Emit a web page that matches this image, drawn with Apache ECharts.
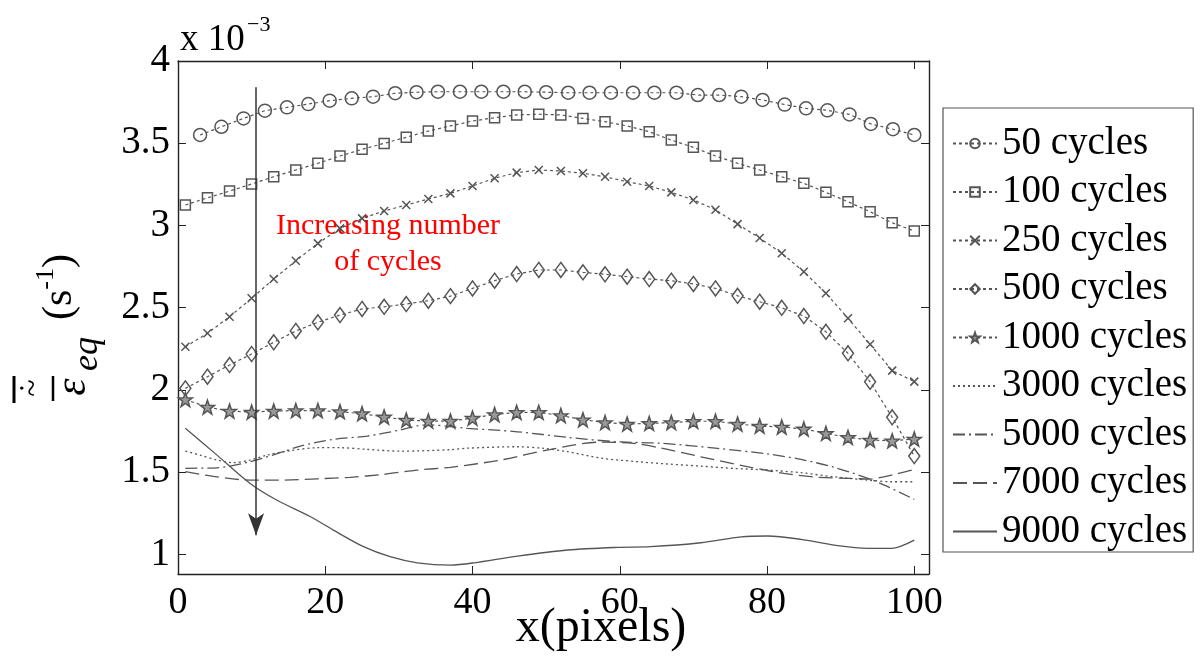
<!DOCTYPE html>
<html>
<head>
<meta charset="utf-8">
<script src="https://cdn.jsdelivr.net/npm/echarts@6/dist/echarts.min.js"></script>
<style>
html,body{margin:0;padding:0;background:#fff;}
#chart{width:1201px;height:657px;}
</style>
</head>
<body>
<div id="chart"></div>
<script>
// ---- data (values in units of 1e-3 s^-1) ----
const seriesNames = ['50 cycles','100 cycles','250 cycles','500 cycles','1000 cycles','3000 cycles','5000 cycles','7000 cycles','9000 cycles'];
const xTicks = [0, 20, 40, 60, 80, 100];
const yTicks = [1, 1.5, 2, 2.5, 3, 3.5, 4];
const xAxisTitle = 'x(pixels)';

const xMarked = [1,4,7,10,13,16,19,22,25,28,31,34,37,40,43,46,49,52,55,58,61,64,67,70,73,76,79,82,85,88,91,94,97,100];
const x50 = [3.0,5.9,8.9,11.8,14.8,17.7,20.6,23.6,26.5,29.5,32.4,35.3,38.3,41.2,44.2,47.1,50.0,53.0,55.9,58.8,61.8,64.7,67.7,70.6,73.5,76.5,79.4,82.4,85.3,88.2,91.2,94.1,97.1,100];

const y50 = [3.550,3.600,3.651,3.698,3.718,3.738,3.759,3.773,3.783,3.804,3.810,3.813,3.813,3.813,3.813,3.813,3.810,3.807,3.807,3.807,3.807,3.807,3.807,3.793,3.793,3.783,3.763,3.735,3.712,3.700,3.675,3.617,3.585,3.550];
const y100 = [3.124,3.168,3.209,3.252,3.296,3.337,3.378,3.422,3.463,3.499,3.536,3.574,3.605,3.635,3.655,3.672,3.676,3.672,3.651,3.631,3.605,3.570,3.519,3.475,3.422,3.378,3.337,3.296,3.256,3.201,3.144,3.083,3.016,2.966];
const y250 = [2.262,2.344,2.445,2.557,2.674,2.785,2.891,2.982,3.043,3.088,3.124,3.161,3.195,3.240,3.287,3.321,3.337,3.331,3.317,3.296,3.266,3.240,3.201,3.155,3.095,3.008,2.923,2.831,2.718,2.587,2.435,2.277,2.117,2.050];
const y500 = [2.009,2.080,2.151,2.218,2.289,2.358,2.411,2.455,2.492,2.505,2.522,2.542,2.570,2.617,2.664,2.704,2.729,2.729,2.715,2.703,2.688,2.674,2.664,2.644,2.617,2.572,2.536,2.499,2.449,2.353,2.222,2.049,1.833,1.597];
const y1000 = [1.941,1.895,1.871,1.865,1.871,1.874,1.874,1.867,1.855,1.835,1.816,1.810,1.810,1.828,1.850,1.863,1.863,1.844,1.818,1.801,1.792,1.796,1.801,1.809,1.809,1.792,1.780,1.774,1.762,1.735,1.711,1.695,1.690,1.701];

const x3000 = [1,3,5.3,7.5,9.8,12.1,15.2,18.9,22,25.7,30.2,37,39.3,46.1,49.7,52.9,57.4,61.9,66.5,71,75.5,80.1,84.6,89.1,93.7,96.9,100];
const y3000 = [1.628,1.603,1.573,1.557,1.573,1.603,1.630,1.648,1.648,1.638,1.627,1.636,1.645,1.654,1.644,1.624,1.585,1.565,1.549,1.536,1.522,1.512,1.496,1.471,1.451,1.441,1.441];
const x5000 = [1,5.3,9.8,14.3,16.6,21.1,25.7,30.2,33.4,34.7,37,39.3,46.1,52.9,59.7,65.6,73.3,80.1,84.6,89.1,93.7,96.4,100];
const y5000 = [1.523,1.526,1.563,1.624,1.658,1.699,1.719,1.756,1.786,1.786,1.776,1.766,1.745,1.711,1.684,1.675,1.644,1.610,1.577,1.529,1.462,1.411,1.334];
const x7000 = [1,5.3,9.8,14.3,18.9,23.4,27.9,32.5,37,43.8,50.6,57.4,61.9,65.6,71,77.8,82.3,86.9,91.4,93.7,97.3,100];
const y7000 = [1.502,1.471,1.451,1.451,1.459,1.468,1.486,1.512,1.529,1.573,1.638,1.682,1.675,1.646,1.593,1.529,1.492,1.468,1.462,1.457,1.486,1.516];
const x9000 = [1,5.3,9.8,13.4,18,21.1,25.2,28.8,32.5,37,40.2,46.1,52.9,59.7,64.2,71,76.5,80.1,84.6,89.1,93.7,96.9,100];
const y9000 = [1.766,1.603,1.431,1.330,1.228,1.147,1.046,0.985,0.948,0.934,0.948,0.989,1.026,1.042,1.046,1.070,1.106,1.111,1.091,1.056,1.036,1.036,1.086];

// arrow annotation (data coordinates)
const arrowX = 10.6;
const arrowTop = 3.84;
const arrowBottom = 1.115;

// ---- chart ----
const FONT = 'Liberation Serif';
const GRAY = '#555';
const pairs = (xs, ys) => xs.map((x, i) => [x, ys[i]]);

const starPath = 'path://M0,-10 L2.35,-3.24 L9.51,-3.09 L3.8,1.24 L5.88,8.09 L0,4 L-5.88,8.09 L-3.8,1.24 L-9.51,-3.09 L-2.35,-3.24 Z';
const xPath = 'path://M0,0 L10,10 M10,0 L0,10';

function markerSeries(name, xs, ys, symbol, size, fill) {
  return {
    name, type: 'line', data: pairs(xs, ys),
    symbol, symbolSize: size, showSymbol: true,
    lineStyle: { color: GRAY, width: 1.2, type: [3, 3] },
    itemStyle: { color: fill, borderColor: GRAY, borderWidth: 1.5 },
    z: 3
  };
}
function plainSeries(name, xs, ys, type, width) {
  return {
    name, type: 'line', data: pairs(xs, ys), symbol: 'none', smooth: 0.3,
    lineStyle: { color: GRAY, width: width, type: type },
    itemStyle: { color: 'rgba(0,0,0,0)', borderWidth: 0 },
    z: 2
  };
}

const series = [
  markerSeries(seriesNames[0], x50, y50, 'circle', 13, 'rgba(255,255,255,0)'),
  markerSeries(seriesNames[1], xMarked, y100, 'rect', 10, 'rgba(255,255,255,0)'),
  markerSeries(seriesNames[2], xMarked, y250, xPath, 8, GRAY),
  markerSeries(seriesNames[3], xMarked, y500, 'diamond', [11, 15], 'rgba(255,255,255,0)'),
  markerSeries(seriesNames[4], xMarked, y1000, starPath, 14, '#9a9a9a'),
  plainSeries(seriesNames[5], x3000, y3000, [2, 3], 1.3),
  plainSeries(seriesNames[6], x5000, y5000, [12, 4, 2, 4], 1.3),
  plainSeries(seriesNames[7], x7000, y7000, [14, 6], 1.3),
  plainSeries(seriesNames[8], x9000, y9000, 'solid', 1.3),
  {
    name: 'arrow', type: 'line', data: [], silent: true,
    markLine: {
      silent: true, symbol: ['none', 'arrow'], symbolSize: [12, 22],
      label: { show: false },
      lineStyle: { color: '#333', width: 1.5, type: 'solid' },
      data: [[{ coord: [arrowX, arrowTop] }, { coord: [arrowX, arrowBottom] }]]
    }
  }
];

const axisCommon = {
  axisLine: { show: true, onZero: false, lineStyle: { color: '#222', width: 1.4 } },
  splitLine: { show: false }
};

const option = {
  animation: false,
  backgroundColor: '#fff',
  grid: { left: 178, right: 272, top: 61, bottom: 83, containLabel: false, outerBoundsMode: 'none' },
  xAxis: [
    Object.assign({}, axisCommon, {
      type: 'value', min: 0, max: 102, position: 'bottom',
      axisTick: { show: true, inside: true, length: 8, customValues: xTicks, lineStyle: { color: '#222' } },
      axisLabel: { customValues: xTicks, fontFamily: FONT, fontSize: 38, color: '#000', margin: 10 }
    }),
    Object.assign({}, axisCommon, {
      type: 'value', min: 0, max: 102, position: 'top',
      axisTick: { show: true, inside: true, length: 8, customValues: xTicks, lineStyle: { color: '#222' } },
      axisLabel: { show: false }
    })
  ],
  yAxis: [
    Object.assign({}, axisCommon, {
      type: 'value', min: 0.88, max: 4, position: 'left',
      axisTick: { show: true, inside: true, length: 8, customValues: yTicks, lineStyle: { color: '#222' } },
      axisLabel: { customValues: yTicks, fontFamily: FONT, fontSize: 39, color: '#000', margin: 8 }
    }),
    Object.assign({}, axisCommon, {
      type: 'value', min: 0.88, max: 4, position: 'right',
      axisTick: { show: true, inside: true, length: 8, customValues: yTicks, lineStyle: { color: '#222' } },
      axisLabel: { show: false }
    })
  ],
  legend: {
    data: seriesNames,
    orient: 'vertical',
    left: 943, top: 108,
    padding: [16, 6, 1, 9],
    itemWidth: 44, itemHeight: 12, itemGap: 9.5,
    borderColor: '#555', borderWidth: 1.2,
    textStyle: { fontFamily: FONT, fontSize: 39, color: '#000', lineHeight: 38 },
    selectedMode: false
  },
  graphic: [
    { type: 'text', x: 601, y: 628, style: { text: xAxisTitle, font: '48px "Liberation Serif"', fill: '#000', align: 'center', verticalAlign: 'middle' } },
    { type: 'text', x: 180, y: 40, style: { text: 'x 10', font: '37px "Liberation Serif"', fill: '#000', align: 'left', verticalAlign: 'middle' } },
    { type: 'text', x: 247, y: 25, style: { text: '\u22123', font: '22px "Liberation Serif"', fill: '#000', align: 'left', verticalAlign: 'middle' } },
    { type: 'text', x: 388, y: 226, style: { text: 'Increasing number', font: '30px "Liberation Serif"', fill: '#ff0000', align: 'center', verticalAlign: 'middle' } },
    { type: 'text', x: 388, y: 262, style: { text: 'of cycles', font: '30px "Liberation Serif"', fill: '#ff0000', align: 'center', verticalAlign: 'middle' } },
    // y-axis label, rotated
    { type: 'text', x: 73, y: 387, rotation: Math.PI / 2, style: { text: '\u03b5', font: 'italic 44px "Liberation Serif"', fill: '#000', align: 'center', verticalAlign: 'middle' } },
    { type: 'text', x: 88, y: 354, rotation: Math.PI / 2, style: { text: 'eq', font: 'italic 36px "Liberation Serif"', fill: '#000', align: 'center', verticalAlign: 'middle' } },
    { type: 'text', x: 34, y: 388, rotation: Math.PI / 2, style: { text: '~', font: '32px "Liberation Serif"', fill: '#000', align: 'center', verticalAlign: 'middle' } },
    { type: 'text', x: 23, y: 388, rotation: Math.PI / 2, style: { text: '\u2022', font: '14px "Liberation Serif"', fill: '#000', align: 'center', verticalAlign: 'middle' } },
    { type: 'line', shape: { x1: 53, y1: 376, x2: 53, y2: 401 }, style: { stroke: '#000', lineWidth: 2.5 } },
    { type: 'line', shape: { x1: 14, y1: 376, x2: 14, y2: 403 }, style: { stroke: '#000', lineWidth: 3 } },
    { type: 'text', x: 57, y: 287, rotation: Math.PI / 2, style: {
        text: '{p|(s}{sup|-1}{p|)}', fill: '#000', align: 'center', verticalAlign: 'middle',
        rich: {
          p: { font: '42px "Liberation Serif"', fill: '#000', lineHeight: 48, verticalAlign: 'bottom' },
          sup: { font: '26px "Liberation Serif"', fill: '#000', lineHeight: 48, verticalAlign: 'top' }
        }
      } }
  ],
  series
};

const chart = echarts.init(document.getElementById('chart'), null, { renderer: 'canvas' });
chart.setOption(option);
</script>
</body>
</html>
